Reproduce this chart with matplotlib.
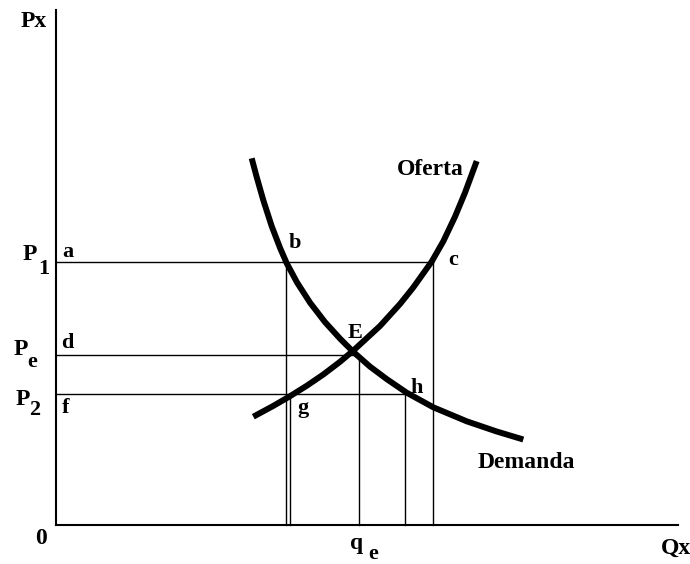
import matplotlib
matplotlib.use("Agg")
import matplotlib.pyplot as plt

# prices (distance above the Q axis) and quantities (distance right of the P axis)
p1 = 263
pe = 170
p2 = 131
q_b = 230
q_g = 234
q_e = 303
q_h = 349
q_c = 377

# demand curve
demanda_q = [195.7, 200.7, 207.3, 215.7, 224, 230.7, 241, 254, 269, 284, 297.3,
             314, 331, 350.7, 377.3, 410.7, 440.7, 467.3]
demanda_p = [366.7, 347.9, 324.8, 298.8, 277.2, 261.8, 242.6, 222.4, 202.9, 186.4, 173.1,
             158.4, 145.7, 132.3, 117.7, 103.7, 93.5, 85.5]

# supply curve
oferta_q = [197.3, 217.3, 234, 250.7, 267.3, 284, 297.3, 324, 344, 357.3, 375.7,
            387.3, 399, 409, 420.7]
oferta_p = [108.3, 119.1, 128.8, 139.2, 150.5, 163.2, 174.4, 199, 221, 237.6, 263.4,
            283.7, 308.3, 332.3, 363.9]

fig = plt.figure(figsize=(6.9, 5.64), dpi=100)
ax = fig.add_axes([0, 0, 1, 1])
ax.set_xlim(-56, 634)
ax.set_ylim(-39, 525)
ax.axis('off')

# axes
ax.plot([0, 0], [0, 515], color='black', lw=1.5)
ax.plot([0, 622], [0, 0], color='black', lw=1.5)

# guide lines
thin = dict(color='black', lw=1.0)
ax.plot([0, q_c], [p1, p1], **thin)
ax.plot([0, q_e], [pe, pe], **thin)
ax.plot([0, q_h], [p2, p2], **thin)
ax.plot([q_b, q_b], [0, p1], **thin)
ax.plot([q_g, q_g], [0, p2], **thin)
ax.plot([q_e, q_e], [0, pe], **thin)
ax.plot([q_h, q_h], [0, p2], **thin)
ax.plot([q_c, q_c], [0, p1], **thin)

# curves
curve = dict(color='black', lw=4.3, solid_capstyle='butt', solid_joinstyle='round')
ax.plot(demanda_q, demanda_p, **curve)
ax.plot(oferta_q, oferta_p, **curve)

font = dict(family='Liberation Serif', weight='bold', fontsize=17, color='black')
small = dict(family='Liberation Serif', weight='bold', fontsize=16, color='black')

ax.text(-22, 498, 'Px', ha='center', va='baseline', **font)
ax.text(-15, -19, '0', ha='center', va='baseline', **font)
ax.text(620, -29, 'Qx', ha='center', va='baseline', **font)
ax.text(301, -24, 'q', ha='center', va='baseline', **font)
ax.text(317, -34, 'e', ha='center', va='baseline', **small)

ax.text(-26, 265, 'P', ha='center', va='baseline', **font)
ax.text(-12, 251, '1', ha='center', va='baseline', **small)
ax.text(-35, 170, 'P', ha='center', va='baseline', **font)
ax.text(-24, 158, 'e', ha='center', va='baseline', **small)
ax.text(-33, 120, 'P', ha='center', va='baseline', **font)
ax.text(-21, 110, '2', ha='center', va='baseline', **small)

ax.text(12, 268, 'a', ha='center', va='baseline', **small)
ax.text(11, 177, 'd', ha='center', va='baseline', **small)
ax.text(10, 112, 'f', ha='center', va='baseline', **small)
ax.text(239, 277, 'b', ha='center', va='baseline', **small)
ax.text(397, 260, 'c', ha='center', va='baseline', **small)
ax.text(299, 187, 'E', ha='center', va='baseline', **small)
ax.text(361, 132, 'h', ha='center', va='baseline', **small)
ax.text(247, 112, 'g', ha='center', va='baseline', **small)
ax.text(374, 350, 'Oferta', ha='center', va='baseline', **font)
ax.text(470, 57, 'Demanda', ha='center', va='baseline', **font)

fig.savefig('out.png', dpi=100)
